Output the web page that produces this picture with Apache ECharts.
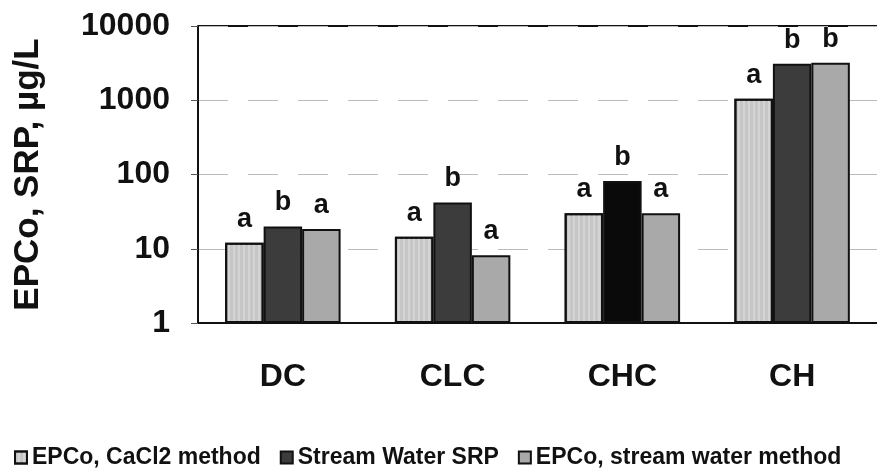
<!DOCTYPE html>
<html>
<head>
<meta charset="utf-8">
<script src="https://cdn.jsdelivr.net/npm/echarts@6/dist/echarts.min.js"></script>
<style>
  html, body { margin: 0; padding: 0; background: #fff; }
  #chart { width: 877px; height: 475px; }
</style>
</head>
<body>
<div id="chart"></div>
<script>
const sites = ["DC", "CLC", "CHC", "CH"];
const cacl2Values = [12, 14.5, 30, 1050];
const streamSrpValues = [20, 42, 82, 3100];
const streamMethodValues = [18.5, 8.2, 30, 3200];
const cacl2Letters = ["a", "a", "a", "a"];
const srpLetters = ["b", "b", "b", "b"];
const streamLetters = ["a", "a", "a", "b"];

const font = "Liberation Sans, Arial, sans-serif";

function letterLabel(letters) {
  return {
    show: true,
    position: "top",
    distance: 10,
    formatter: (p) => letters[p.dataIndex],
    color: "#111",
    fontSize: 27,
    fontWeight: "bold",
    fontFamily: font,
  };
}

const chart = echarts.init(document.getElementById("chart"));
chart.setOption({
  backgroundColor: "#fff",
  animation: false,
  grid: { left: 198, right: 0, top: 26, bottom: 152, show: false },
  legend: {
    left: 9,
    top: 441,
    icon: "rect",
    itemWidth: 12,
    itemHeight: 12,
    itemGap: 19,
    textStyle: { fontSize: 23, fontFamily: font, color: "#111", fontWeight: "bold" },
    data: ["EPCo, CaCl2 method", "Stream Water SRP", "EPCo, stream water method"],
  },
  xAxis: {
    type: "category",
    data: sites,
    axisLine: { lineStyle: { color: "#111", width: 2 } },
    axisTick: { show: false },
    axisLabel: { fontSize: 32, fontWeight: "bold", fontFamily: font, color: "#111", margin: 38 },
  },
  yAxis: {
    type: "log",
    logBase: 10,
    min: 1,
    max: 10000,
    name: "EPCo, SRP, \u00b5g/L",
    nameLocation: "middle",
    nameGap: 152,
    nameRotate: 90,
    nameTextStyle: { fontSize: 35, fontWeight: "bold", fontFamily: font, color: "#111" },
    axisLine: { show: true, lineStyle: { color: "#111", width: 2 } },
    axisTick: { show: true, length: 7, lineStyle: { color: "#555" } },
    axisLabel: {
      fontSize: 32, fontWeight: "bold", fontFamily: font, color: "#111", margin: 28,
      formatter: (v) => String(Math.round(v)),
    },
    splitLine: { show: true, lineStyle: { color: "#bbb", type: [30, 20], width: 1 } },
  },
  series: [
    {
      name: "EPCo, CaCl2 method",
      type: "bar",
      data: cacl2Values,
      barGap: "0%",
      barCategoryGap: "32%",
      itemStyle: {
        color: "#c6c6c6",
        borderColor: "#111",
        borderWidth: 2,
        decal: { symbol: "rect", symbolSize: 1, dashArrayX: [[1, 0], [1, 0]], dashArrayY: [2, 3], rotation: Math.PI / 2, color: "rgba(255,255,255,0.25)" },
      },
      label: letterLabel(cacl2Letters),
    },
    {
      name: "Stream Water SRP",
      type: "bar",
      data: streamSrpValues.map((v, i) => (i === 2 ? { value: v, itemStyle: { color: "#0a0a0a" } } : v)),
      itemStyle: { color: "#3c3c3c", borderColor: "#111", borderWidth: 2 },
      label: letterLabel(srpLetters),
    },
    {
      name: "EPCo, stream water method",
      type: "bar",
      data: streamMethodValues,
      itemStyle: { color: "#a9a9a9", borderColor: "#111", borderWidth: 2 },
      label: letterLabel(streamLetters),
    },
  ],
  graphic: [
    { type: "line", shape: { x1: 198, y1: 26, x2: 877, y2: 26 }, style: { stroke: "#111", lineWidth: 2 } },
  ],
});
</script>
</body>
</html>
